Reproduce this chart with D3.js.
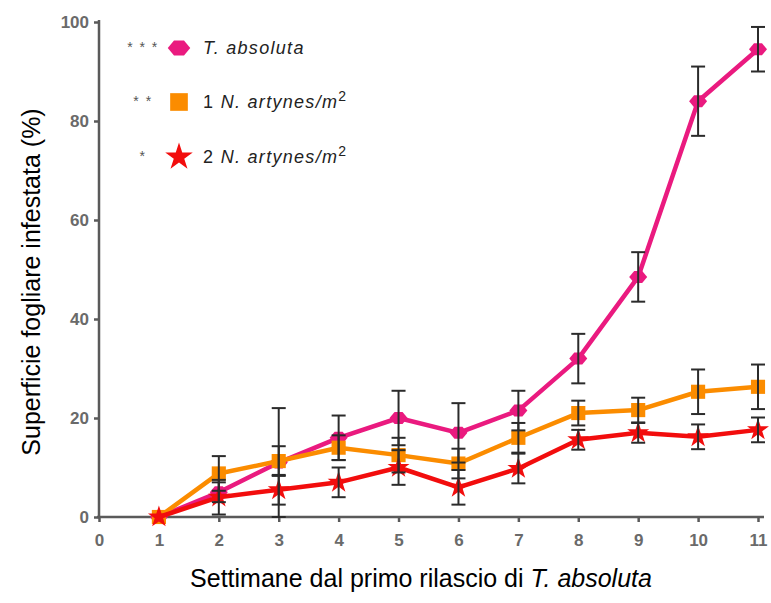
<!DOCTYPE html>
<html>
  <head>
    <title>Superficie fogliare infestata</title>
    <script src="https://d3js.org/d3.v7.min.js"></script>
    <style>
      html, body { margin: 0; padding: 0; background: #fff; overflow: hidden; }
      svg { display: block; }
      text { font-family: "Liberation Sans", Arial, sans-serif; }
    </style>
  </head>
  <body>
    <svg></svg>
    <script>
      // weeks after first release
      const weeks = [1, 2, 3, 4, 5, 6, 7, 8, 9, 10, 11];
      const xTicks = [0, 1, 2, 3, 4, 5, 6, 7, 8, 9, 10, 11];
      const yTicks = [0, 20, 40, 60, 80, 100];

      // T. absoluta only
      const absolutaMean = [0, 5, 11, 16, 20, 17, 21.5, 32, 48.5, 84, 94.5];
      const absolutaErr  = [0, 2, 11, 4.5, 5.5, 6, 4, 5, 5, 7, 4.5];
      // 1 N. artynes / m2
      const one_mean = [0, 8.8, 11.3, 14, 12.5, 10.8, 16, 21, 21.6, 25.3, 26.3];
      const one_err  = [0, 3.5, 3, 2.5, 3.5, 3, 3, 2.5, 2.5, 4.5, 4.5];
      // 2 N. artynes / m2
      const two_mean = [0, 4, 5.5, 7, 10, 6, 9.8, 15.6, 17, 16.2, 17.6];
      const two_err  = [0, 3.5, 3, 3, 3.5, 3.5, 3, 2, 2, 2.5, 2.5];

      const svg = d3.select('svg')
        .attr('width', 771)
        .attr('height', 603);

      const margin = { top: 22, right: 13, bottom: 86, left: 99 };
      const innerWidth = 771 - margin.left - margin.right;
      const innerHeight = 603 - margin.top - margin.bottom;

      const xScale = d3.scaleLinear().domain([0, 11]).range([0, innerWidth]);
      const yScale = d3.scaleLinear().domain([0, 100]).range([innerHeight, 0]);

      const g = svg.append('g')
        .attr('transform', `translate(${margin.left},${margin.top})`);

      // axes
      const xAxis = d3.axisBottom(xScale).tickValues(xTicks).tickSize(5).tickPadding(12);
      const yAxis = d3.axisLeft(yScale).tickValues(yTicks).tickSize(5).tickPadding(5);

      const xAxisG = g.append('g')
        .attr('transform', `translate(0,${innerHeight})`)
        .call(xAxis);
      xAxisG.select('.domain').attr('d', `M-2,0H${innerWidth + 6}`);
      const yAxisG = g.append('g').call(yAxis);
      yAxisG.select('.domain').attr('d', `M0,${innerHeight}V-2`);

      g.selectAll('.domain, .tick line').attr('stroke', '#5a5a5a').attr('stroke-width', 2.5);
      g.selectAll('.tick text')
        .attr('fill', '#6a6a6a')
        .style('font-size', '17px')
        .style('font-weight', 'bold');

      svg.append('text')
        .attr('transform', `translate(40,282) rotate(-90)`)
        .attr('text-anchor', 'middle')
        .style('font-size', '25px')
        .attr('fill', '#000')
        .text('Superficie fogliare infestata (%)');

      const xTitle = svg.append('text')
        .attr('x', 421)
        .attr('y', 587)
        .attr('text-anchor', 'middle')
        .style('font-size', '25px')
        .attr('fill', '#000');
      xTitle.append('tspan').text('Settimane dal primo rilascio di ');
      xTitle.append('tspan').style('font-style', 'italic').text('T. absoluta');

      const series = [
        { mean: absolutaMean, err: absolutaErr, color: '#ea1a7f', shape: 'diamond' },
        { mean: one_mean, err: one_err, color: '#fb8c00', shape: 'square' },
        { mean: two_mean, err: two_err, color: '#f20d0d', shape: 'star' }
      ];

      const symbolFor = (s, k) => {
        k = k || 1;
        if (s === 'square') return d3.symbol(d3.symbolSquare, 200 * k * k)();
        if (s === 'star') return d3.symbol(d3.symbolStar, 150 * k * k)();
        return `M${-9 * k},0 L${-4 * k},${-6 * k} L${4 * k},${-6 * k} L${9 * k},0 L${4 * k},${6 * k} L${-4 * k},${6 * k} Z`;
      };

      const line = d3.line()
        .x((d, i) => xScale(weeks[i]))
        .y(d => yScale(d));

      series.forEach(s => {
        g.append('path')
          .datum(s.mean)
          .attr('fill', 'none')
          .attr('stroke', s.color)
          .attr('stroke-width', 4.5)
          .attr('stroke-linejoin', 'round')
          .attr('d', line);
        g.selectAll(null).data(s.mean).enter().append('path')
          .attr('d', symbolFor(s.shape))
          .attr('transform', (d, i) => `translate(${xScale(weeks[i])},${yScale(d)})`)
          .attr('fill', s.color);
      });

      // error bars on top
      series.forEach(s => {
        const rows = weeks.map((w, i) => ({ w, m: s.mean[i], e: s.err[i] })).filter(d => d.e > 0);
        const eb = g.selectAll(null).data(rows).enter()
          .append('g')
          .attr('stroke', '#2b2b2b')
          .attr('stroke-width', 2);
        eb.append('line')
          .attr('x1', d => xScale(d.w)).attr('x2', d => xScale(d.w))
          .attr('y1', d => yScale(d.m + d.e)).attr('y2', d => yScale(d.m - d.e));
        [1, -1].forEach(sign => {
          eb.append('line')
            .attr('x1', d => xScale(d.w) - 7).attr('x2', d => xScale(d.w) + 7)
            .attr('y1', d => yScale(d.m + sign * d.e))
            .attr('y2', d => yScale(d.m + sign * d.e));
        });
      });

      // legend
      const legendItems = [
        { stars: '* * *', label: 'N. artynes/m', num: '' },
        { stars: '* *', label: 'N. artynes/m', num: '1 ' },
        { stars: '*', label: 'N. artynes/m', num: '2 ' }
      ];
      legendItems[0].label = 'T. absoluta';
      const legendY = [48, 102, 157];
      const legend = svg.selectAll('.legend').data(legendItems).enter().append('g')
        .attr('class', 'legend')
        .attr('transform', (d, i) => `translate(0,${legendY[i]})`);
      legend.append('text')
        .attr('x', 143).attr('y', 4)
        .attr('text-anchor', 'middle')
        .style('font-size', '14px')
        .style('letter-spacing', '1.5px')
        .attr('fill', '#555')
        .text(d => d.stars);
      legend.append('path')
        .attr('d', (d, i) => symbolFor(series[i].shape, 1.25))
        .attr('transform', 'translate(179,0)')
        .attr('fill', (d, i) => series[i].color);
      const lt = legend.append('text')
        .attr('x', 203).attr('y', 6)
        .style('font-size', '18px')
        .style('letter-spacing', '1.3px')
        .attr('fill', '#222');
      lt.append('tspan').text(d => d.num);
      lt.append('tspan').style('font-style', 'italic').text(d => d.label);
      lt.filter((d, i) => i > 0).append('tspan')
        .attr('dy', -7).style('font-size', '14px').text('2');
    </script>
  </body>
</html>
